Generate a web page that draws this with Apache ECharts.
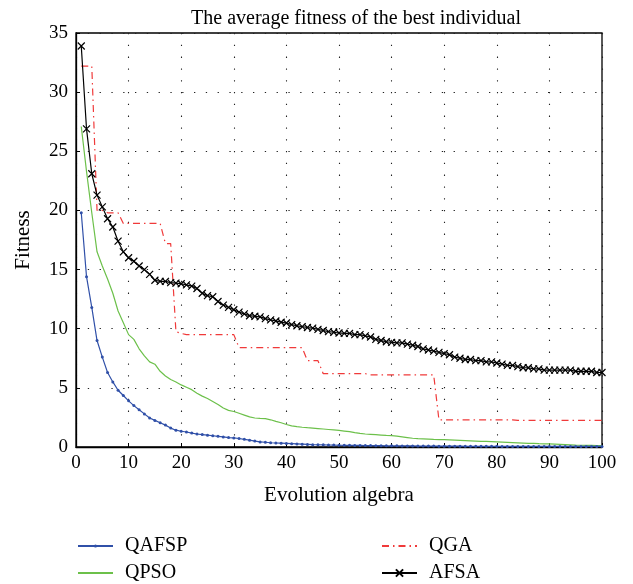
<!DOCTYPE html>
<html><head><meta charset="utf-8">
<script src="https://cdn.jsdelivr.net/npm/echarts@6/dist/echarts.min.js"></script>
<style>html,body{margin:0;padding:0;background:#fff}#c{width:633px;height:584px}</style>
</head><body><div id="c"></div>
<script>
const titleText = 'The average fitness of the best individual';
const xName = 'Evolution algebra';
const yName = 'Fitness';
const seriesNames = ['QAFSP', 'QPSO', 'QGA', 'AFSA'];
const xTicks = [0,10,20,30,40,50,60,70,80,90,100];
const yTicks = [0,5,10,15,20,25,30,35];

const qafsp = [19.8,14.4,11.8,9.0,7.6,6.3,5.5,4.8,4.35,3.9,
  3.5,3.15,2.8,2.45,2.25,2.05,1.85,1.6,1.42,1.33,
  1.27,1.18,1.1,1.05,1.0,0.95,0.9,0.85,0.8,0.77,
  0.72,0.65,0.58,0.5,0.43,0.4,0.36,0.34,0.32,0.3,
  0.28,0.26,0.24,0.22,0.2,0.19,0.18,0.17,0.16,0.15,
  0.14,0.14,0.13,0.13,0.12,0.12,0.11,0.11,0.1,0.1,
  0.1,0.09,0.09,0.09,0.08,0.08,0.08,0.08,0.07,0.07,
  0.07,0.07,0.07,0.06,0.06,0.06,0.06,0.06,0.06,0.06,
  0.05,0.05,0.05,0.05,0.05,0.05,0.05,0.05,0.05,0.05,
  0.05,0.05,0.05,0.05,0.05,0.05,0.05,0.05,0.05,0.05];
const qpso = [27.1,23.3,19.8,16.5,15.3,14.2,13.0,11.5,10.5,9.5,
  9.1,8.3,7.7,7.2,7.0,6.4,6.0,5.7,5.5,5.25,
  5.05,4.85,4.55,4.3,4.1,3.85,3.6,3.3,3.1,3.0,
  2.85,2.7,2.55,2.45,2.42,2.4,2.3,2.17,2.05,1.9,
  1.78,1.72,1.67,1.63,1.6,1.56,1.52,1.48,1.44,1.4,
  1.35,1.3,1.22,1.15,1.1,1.07,1.04,1.01,0.98,0.96,
  0.92,0.86,0.8,0.74,0.7,0.68,0.66,0.64,0.63,0.62,
  0.6,0.58,0.56,0.54,0.52,0.5,0.48,0.47,0.45,0.43,
  0.41,0.39,0.37,0.35,0.33,0.31,0.3,0.28,0.27,0.26,
  0.24,0.22,0.2,0.18,0.16,0.15,0.14,0.13,0.12,0.12];
const qga = [32.2,32.2,32.2,20.0,20.0,19.8,19.8,19.8,18.9,18.9,
  18.9,18.9,18.9,18.9,18.9,18.9,17.2,17.2,9.75,9.6,
  9.5,9.5,9.5,9.5,9.5,9.5,9.5,9.5,9.5,9.5,
  8.4,8.4,8.4,8.4,8.4,8.4,8.4,8.4,8.4,8.4,
  8.4,8.4,8.4,7.3,7.3,7.3,6.2,6.2,6.2,6.2,
  6.2,6.2,6.2,6.2,6.2,6.1,6.1,6.1,6.1,6.1,
  6.1,6.1,6.1,6.1,6.1,6.1,6.1,6.1,2.3,2.3,
  2.3,2.3,2.3,2.3,2.3,2.3,2.3,2.3,2.3,2.3,
  2.3,2.3,2.3,2.25,2.25,2.25,2.25,2.25,2.25,2.25,
  2.25,2.25,2.25,2.25,2.25,2.25,2.25,2.25,2.25,2.25];
const afsa = [33.9,26.9,23.1,21.3,20.3,19.3,18.6,17.4,16.5,16.0,
  15.7,15.3,15.0,14.6,14.1,14.0,14.0,13.9,13.85,13.8,
  13.7,13.6,13.4,13.0,12.8,12.7,12.3,12.0,11.8,11.6,
  11.4,11.25,11.1,11.05,11.0,10.85,10.75,10.65,10.55,10.48,
  10.35,10.25,10.18,10.1,10.05,9.95,9.85,9.75,9.7,9.64,
  9.6,9.6,9.5,9.5,9.4,9.3,9.1,9.0,8.9,8.85,
  8.8,8.8,8.7,8.6,8.5,8.3,8.2,8.1,8.0,7.9,
  7.8,7.6,7.5,7.4,7.4,7.3,7.3,7.2,7.2,7.1,
  7.0,6.9,6.9,6.8,6.7,6.7,6.6,6.6,6.5,6.5,
  6.5,6.5,6.5,6.5,6.4,6.4,6.4,6.4,6.3,6.3];

const generations = qafsp.map((_, i) => i + 1);
const pairs = arr => arr.map((v, i) => [generations[i], v]);

const serif = '"Liberation Serif", "DejaVu Serif", serif';
const crossPath = 'path://M0,0 L10,10 M10,0 L0,10';
const legendText = { fontFamily: serif, fontSize: 20, color: '#000', lineHeight: 20, padding: [0, 0, 0, 7] };
function legendItem(name, left, top, itemHeight, hideSymbol) {
  return {
    data: [{ name: name, itemStyle: hideSymbol ? { opacity: 0 } : undefined }],
    left: left, top: top, itemWidth: 35, itemHeight: itemHeight, itemGap: 12,
    textStyle: legendText, padding: 0
  };
}

const chart = echarts.init(document.getElementById('c'));
chart.setOption({
  animation: false,
  backgroundColor: '#fff',
  title: { text: titleText, left: 351, textAlign: 'center', top: 4,
    textStyle: { fontFamily: serif, fontSize: 20, fontWeight: 'normal', color: '#000' } },
  grid: { left: 76, right: 31, top: 33, bottom: 137, show: true, borderColor: '#000', borderWidth: 1.3 },
  legend: [
    legendItem('QAFSP', 77, 536, 4, false),
    legendItem('QPSO', 77, 563, 10, true),
    legendItem('QGA', 381, 536, 10, true),
    legendItem('AFSA', 381, 563, 9, false)
  ],
  xAxis: {
    type: 'value', min: 0, max: 100, interval: 10,
    name: xName, nameLocation: 'middle', nameGap: 38,
    nameTextStyle: { fontFamily: serif, fontSize: 21, color: '#000' },
    axisLine: { lineStyle: { color: '#000', width: 1.3 } },
    axisTick: { inside: true, length: 4, lineStyle: { color: '#000' } },
    axisLabel: { fontFamily: serif, fontSize: 19, color: '#000', margin: 7 },
    splitLine: { show: true, lineStyle: { color: '#222', type: [1.3, 10.5], width: 1.1 } }
  },
  yAxis: {
    type: 'value', min: 0, max: 35, interval: 5,
    name: yName, nameLocation: 'middle', nameGap: 42, nameRotate: 90,
    nameTextStyle: { fontFamily: serif, fontSize: 21, color: '#000' },
    axisLine: { show: true, lineStyle: { color: '#000', width: 1.3 } },
    axisTick: { show: true, inside: true, length: 4, lineStyle: { color: '#000' } },
    axisLabel: { fontFamily: serif, fontSize: 19, color: '#000', margin: 8 },
    splitLine: { show: true, lineStyle: { color: '#222', type: [1.3, 10.5], width: 1.1 } }
  },
  series: [
    { name: 'QAFSP', type: 'line', data: pairs(qafsp), symbol: 'circle', symbolSize: 3, showAllSymbol: true,
      lineStyle: { color: '#3050a8', width: 1.2 }, itemStyle: { color: '#3050a8' }, z: 5 },
    { name: 'QPSO', type: 'line', data: pairs(qpso), symbol: 'none',
      lineStyle: { color: '#6cc04a', width: 1.2 }, itemStyle: { color: '#6cc04a' }, z: 4 },
    { name: 'QGA', type: 'line', data: pairs(qga), symbol: 'none',
      lineStyle: { color: '#f03a3a', width: 1.2, type: [7, 4, 1.5, 4] }, itemStyle: { color: '#f03a3a' }, z: 3 },
    { name: 'AFSA', type: 'line', data: pairs(afsa), symbol: crossPath, symbolSize: 7, showAllSymbol: true,
      lineStyle: { color: '#000', width: 1.2 }, itemStyle: { color: '#000', borderColor: '#000', borderWidth: 1.2 }, z: 6 }
  ]
});
</script></body></html>
